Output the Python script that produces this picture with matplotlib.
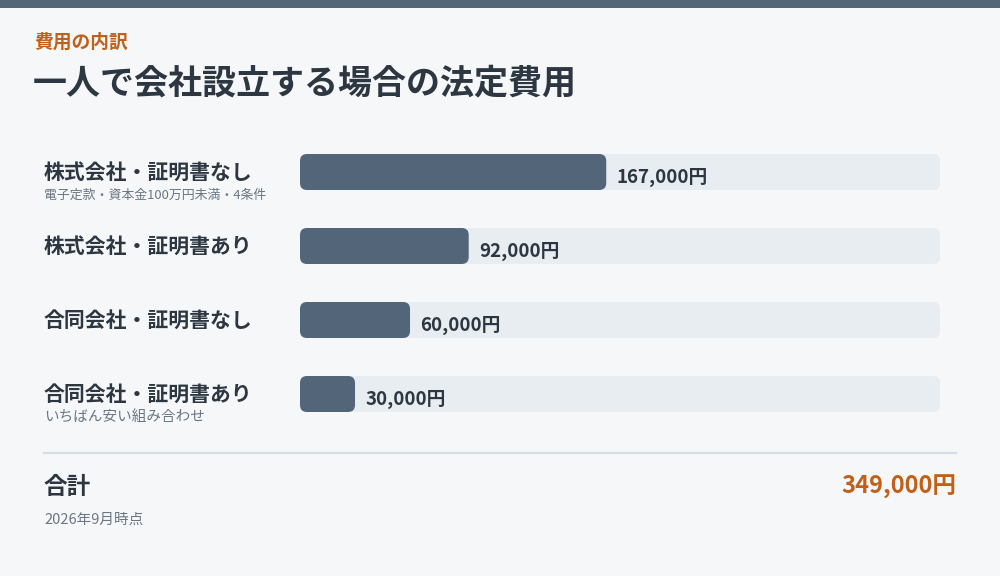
import matplotlib.pyplot as plt
from matplotlib.patches import FancyBboxPatch, Rectangle

plt.rcParams['font.family'] = ['Noto Sans CJK JP', 'DejaVu Sans']

# データ
labels = ['株式会社・証明書なし', '株式会社・証明書あり', '合同会社・証明書なし', '合同会社・証明書あり']
sublabels = ['電子定款・資本金100万円未満・4条件', '', '', 'いちばん安い組み合わせ']
values = [167000, 92000, 60000, 30000]
total = 349000

kicker = '費用の内訳'
title = '一人で会社設立する場合の法定費用'
total_label = '合計'
note = '2026年9月時点'

BG = '#f5f7f9'
DARK = '#2d3741'
BAR = '#536579'
TRACK = '#e8edf1'
ORANGE = '#c0601a'
GRAY = '#6b7785'

W, H = 1000, 576
fig = plt.figure(figsize=(W / 100, H / 100), dpi=100)
fig.patch.set_facecolor(BG)

# 背景用の座標 (ピクセル)
bg = fig.add_axes([0, 0, 1, 1])
bg.set_xlim(0, W)
bg.set_ylim(H, 0)
bg.axis('off')
bg.add_patch(Rectangle((0, 0), W, 8, color=BAR, lw=0))

bg.text(34, 42, kicker, color=ORANGE, fontsize=13.5, fontweight='bold', va='center')
bg.text(33, 83, title, color=DARK, fontsize=24.5, fontweight='bold', va='center')

row_y0, row_step, bar_h = 172, 74, 36
for i, (lab, sub) in enumerate(zip(labels, sublabels)):
    y = row_y0 + i * row_step
    bg.text(44, y, lab, color=DARK, fontsize=15, fontweight='bold', va='center')
    if sub:
        # 数字や中点を含む方は少し小さめ
        size = 9.3 if any(c.isdigit() for c in sub) else 10.5
        bg.text(44, y + 23, sub, color=GRAY, fontsize=size, va='center')

bg.plot([44, 956], [453, 453], color='#d8dee4', lw=1.6)
bg.text(44, 487, total_label, color=DARK, fontsize=17, fontweight='bold', va='center')
bg.text(956, 487, f'{total:,}円', color=ORANGE, fontsize=17, fontweight='bold',
        va='center', ha='right')
bg.text(44, 520, note, color=GRAY, fontsize=10.5, va='center')

# バー
x0, track_w = 300, 640
ax = fig.add_axes([x0 / W, 0, track_w / W, 1])
ax.set_xlim(0, total)
ax.set_ylim(H, 0)
ax.axis('off')
ax.patch.set_alpha(0)

px_x = total / track_w  # x単位 / px
r = 7 * px_x
aspect = 1 / px_x
for i, v in enumerate(values):
    y = row_y0 + i * row_step
    ax.add_patch(FancyBboxPatch((0, y - bar_h / 2), total, bar_h,
                                boxstyle=f'round,pad=0,rounding_size={r}',
                                mutation_aspect=aspect, fc=TRACK, ec='none'))
    ax.add_patch(FancyBboxPatch((0, y - bar_h / 2), v, bar_h,
                                boxstyle=f'round,pad=0,rounding_size={r}',
                                mutation_aspect=aspect, fc=BAR, ec='none'))
    ax.annotate(f'{v:,}円', (v, y + 5), xytext=(7.5, 0), textcoords='offset points',
                color=DARK, fontsize=13.5, fontweight='bold', va='center')

fig.savefig('out.png', dpi=100, facecolor=BG)
